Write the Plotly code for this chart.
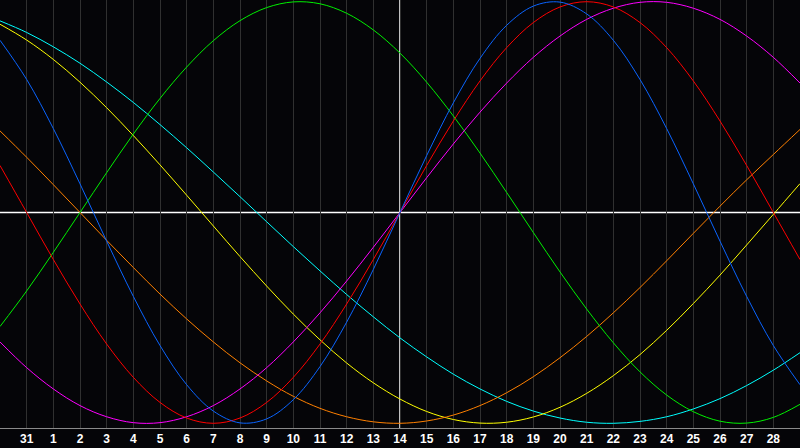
"""Biorhythm-style chart: seven cycles over a 31-day window."""

import plotly.graph_objects as go

# day index 0..30 across the window, labelled grid days 1..29
day_index = list(range(31))
tick_days = list(range(1, 30))
tick_labels = ["31"] + [str(d) for d in range(1, 29)]
today_index = 15

blue = [0.817, 0.631, 0.398, 0.136, -0.136, -0.398, -0.631, -0.817, -0.942, -0.998,
        -0.979, -0.888, -0.731, -0.520, -0.270, 0.0, 0.270, 0.520, 0.731, 0.888,
        0.979, 0.998, 0.942, 0.817, 0.631, 0.398, 0.136, -0.136, -0.398, -0.631, -0.817]
red = [0.223, 0.0, -0.223, -0.434, -0.624, -0.782, -0.901, -0.975, -1.0, -0.975,
       -0.901, -0.782, -0.624, -0.434, -0.223, 0.0, 0.223, 0.434, 0.624, 0.782,
       0.901, 0.975, 1.0, 0.975, 0.901, 0.782, 0.624, 0.434, 0.223, 0.0, -0.223]
magenta = [-0.614, -0.736, -0.837, -0.916, -0.969, -0.997, -0.997, -0.969, -0.916, -0.837,
           -0.736, -0.614, -0.476, -0.325, -0.165, 0.0, 0.165, 0.325, 0.476, 0.614,
           0.736, 0.837, 0.916, 0.969, 0.997, 0.997, 0.969, 0.916, 0.837, 0.736, 0.614]
green = [-0.541, -0.372, -0.189, 0.0, 0.189, 0.372, 0.541, 0.690, 0.815, 0.910,
         0.972, 0.999, 0.990, 0.945, 0.866, 0.756, 0.618, 0.458, 0.282, 0.095,
         -0.095, -0.282, -0.458, -0.618, -0.756, -0.866, -0.945, -0.990, -0.999, -0.972, -0.910]
orange = [0.387, 0.262, 0.132, 0.0, -0.132, -0.261, -0.387, -0.505, -0.614, -0.713,
          -0.799, -0.872, -0.929, -0.969, -0.993, -1.0, -0.989, -0.961, -0.916, -0.855,
          -0.779, -0.689, -0.588, -0.476, -0.356, -0.229, -0.099, 0.030, 0.155, 0.275, 0.394]
yellow = [0.893, 0.818, 0.726, 0.618, 0.497, 0.365, 0.226, 0.082, -0.064, -0.209,
          -0.349, -0.482, -0.604, -0.714, -0.808, -0.885, -0.944, -0.982, -0.999, -0.995,
          -0.970, -0.924, -0.858, -0.774, -0.674, -0.559, -0.432, -0.297, -0.154, -0.009, 0.137]
cyan = [0.909, 0.854, 0.786, 0.708, 0.619, 0.522, 0.417, 0.307, 0.192, 0.075,
        -0.044, -0.162, -0.277, -0.389, -0.495, -0.595, -0.685, -0.767, -0.837, -0.896,
        -0.942, -0.975, -0.995, -1.0, -0.991, -0.969, -0.932, -0.883, -0.821, -0.748, -0.665]

series = [
    ("cyan", cyan, "#00ffff"),
    ("yellow", yellow, "#ffff00"),
    ("orange", orange, "#ff8000"),
    ("green", green, "#00f000"),
    ("magenta", magenta, "#ff00ff"),
    ("red", red, "#ff0000"),
    ("blue", blue, "#0a64ff"),
]

fig = go.Figure()
for name, values, color in series:
    fig.add_trace(
        go.Scatter(
            x=day_index, y=values, name=name, mode="lines",
            line=dict(color=color, width=1, shape="spline"),
            hoverinfo="skip",
        )
    )

# white cross: zero line and today marker
fig.add_hline(y=0, line=dict(color="#ffffff", width=1.5), layer="below")
fig.add_vline(x=today_index, line=dict(color="#ffffff", width=1.5), layer="below")

fig.update_layout(
    width=800, height=448,
    margin=dict(l=0, r=0, t=0, b=20),
    paper_bgcolor="#050508", plot_bgcolor="#050508",
    showlegend=False,
    xaxis=dict(
        range=[0, 30], tickmode="array", tickvals=tick_days,
        ticktext=[f"<b>{t}</b>" for t in tick_labels],
        tickfont=dict(family="Liberation Sans", size=12, color="#ffffff"),
        showgrid=True, gridcolor="#303030", gridwidth=1,
        zeroline=False, ticks="", ticklen=0,
        showline=True, linecolor="#8a8a8a", linewidth=1, mirror=True,
        fixedrange=True,
    ),
    yaxis=dict(
        range=[-1.0223, 1.008], showgrid=False, zeroline=False,
        showticklabels=False, ticks="",
        showline=True, linecolor="#8a8a8a", linewidth=1,
        fixedrange=True,
    ),
)

# drop the browser's default body margin so the figure sits at the page corner
fig.write_html(
    "out.html",
    config={"displayModeBar": False},
    post_script="document.body.style.margin='0';document.body.style.overflow='hidden';",
)
